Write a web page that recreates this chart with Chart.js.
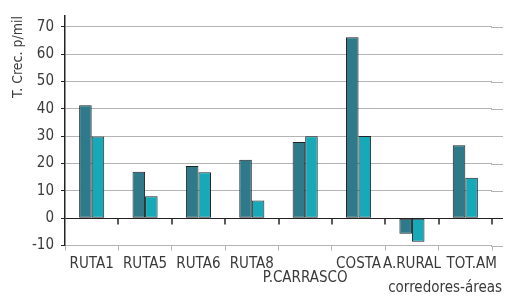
<!DOCTYPE html>
<html>
<head>
<meta charset="utf-8">
<script src="https://cdn.jsdelivr.net/npm/chart.js@4.4.0/dist/chart.umd.min.js"></script>
<style>
  html, body { margin: 0; padding: 0; background: #fff; }
  #wrap { width: 505px; height: 296px; }
</style>
</head>
<body>
<div id="wrap"><canvas id="chart"></canvas></div>
<script>
// Growth rate by corridor / area
const categories = ['RUTA1', 'RUTA5', 'RUTA6', 'RUTA8', ['', 'P.CARRASCO'], 'COSTA', 'A.RURAL', '   TOT.AM'];
const seriesA = [41.3, 17, 19.1, 21.4, 27.9, 66.2, -5.7, 26.7];
const seriesB = [29.9, 8, 16.8, 6.5, 30, 30.1, -8.6, 14.8];
const yTicks = [-10, 0, 10, 20, 30, 40, 50, 60, 70];

const FONT = "'Liberation Sans Narrow', 'DejaVu Sans Condensed', 'Liberation Sans', sans-serif";
const TEXT = '#3a3a3a';
const GRID = '#b4b4b4';
const DARK = '#222';

// extend the horizontal grid past the last category, tick marks on the zero line, x title
const extras = {
    id: 'extras',
    beforeDatasetsDraw(chart) {
        const ctx = chart.ctx, area = chart.chartArea, y = chart.scales.y;
        ctx.save();
        ctx.lineWidth = 1;
        yTicks.forEach(v => {
            const py = Math.round(y.getPixelForValue(v)) + 0.5;
            ctx.strokeStyle = v === 0 ? DARK : GRID;
            ctx.beginPath();
            ctx.moveTo(area.right - 1, py);
            ctx.lineTo(chart.width - 2, py);
            ctx.stroke();
        });
        ctx.restore();
    },
    afterDatasetsDraw(chart) {
        const ctx = chart.ctx, x = chart.scales.x, y = chart.scales.y;
        const zy = Math.round(y.getPixelForValue(0)) + 0.5;
        ctx.save();
        ctx.strokeStyle = DARK;
        ctx.lineWidth = 1.5;
        for (let i = 1; i <= categories.length; i++) {
            const px = Math.round(x.getPixelForValue(i - 0.5));
            ctx.beginPath();
            ctx.moveTo(px, zy);
            ctx.lineTo(px, zy + 6);
            ctx.stroke();
        }
        ctx.fillStyle = TEXT;
        ctx.font = '15px ' + FONT;
        ctx.textAlign = 'right';
        ctx.textBaseline = 'bottom';
        ctx.fillText('corredores-áreas', chart.width - 3, chart.height);
        ctx.restore();
    }
};

new Chart(document.getElementById('chart'), {
    type: 'bar',
    data: {
        labels: categories,
        datasets: [{
            data: seriesA,
            backgroundColor: '#2e7a8b',
            borderColor: DARK,
            borderWidth: 1,
            borderSkipped: false,
            inflateAmount: 0
        }, {
            data: seriesB,
            backgroundColor: '#17a9b8',
            borderColor: DARK,
            borderWidth: 1,
            borderSkipped: false,
            inflateAmount: 0
        }]
    },
    options: {
        responsive: true,
        maintainAspectRatio: false,
        animation: false,
        layout: { padding: { top: 16, right: 13, bottom: 5, left: 0 } },
        datasets: { bar: { categoryPercentage: 0.47, barPercentage: 1 } },
        plugins: {
            legend: { display: false },
            tooltip: { enabled: false }
        },
        scales: {
            x: {
                grid: {
                    offset: true,
                    drawOnChartArea: false,
                    color: GRID,
                    tickLength: 5
                },
                border: { display: false },
                ticks: {
                    color: TEXT,
                    font: { family: FONT, size: 15, lineHeight: 0.95 },
                    padding: 6,
                    maxRotation: 0,
                    minRotation: 0,
                    autoSkip: false
                }
            },
            y: {
                min: -10,
                max: 74,
                afterBuildTicks: s => { s.ticks = yTicks.map(v => ({ value: v })); },
                afterFit: s => { s.width = 65; },
                grid: {
                    color: ctx => (ctx.tick && ctx.tick.value === 0 ? DARK : GRID),
                    tickColor: DARK,
                    tickLength: 4
                },
                border: { color: DARK, width: 1.5 },
                ticks: {
                    color: TEXT,
                    font: { family: FONT, size: 15 },
                    padding: 7
                },
                title: {
                    display: true,
                    text: 'T. Crec. p/mil',
                    align: 'end',
                    color: TEXT,
                    font: { family: FONT, size: 14 },
                    padding: { top: 10, bottom: 0 }
                }
            }
        }
    },
    plugins: [extras]
});
</script>
</body>
</html>
